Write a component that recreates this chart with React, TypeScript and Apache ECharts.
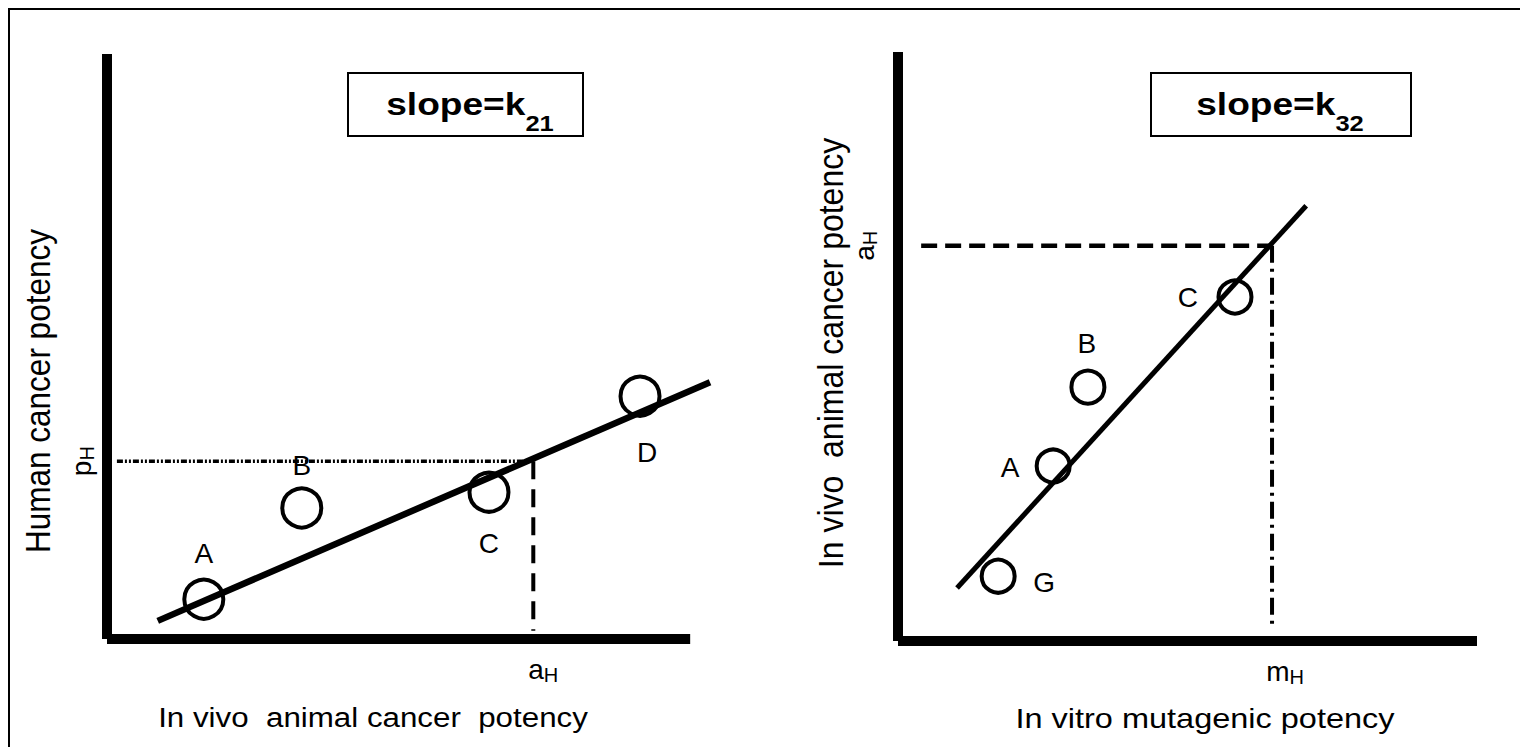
import React, { useEffect, useRef } from "react";
import * as echarts from "echarts";

// ---- Left panel: human vs in vivo animal potency ----
const leftNames = ["A", "B", "C", "D"];
const leftX = [16.6, 33.4, 65.5, 91.4];
const leftY = [6.8, 22.4, 25.1, 41.5];
const leftFitX = [8.7, 103.4];
const leftFitY = [3.1, 43.9];
const leftAxisEnd = 100;
const pHLevel = 30.4;
const pHFrom = 1.7;
const pHTo = 72.0;
const aHLeft = 73.1;
const aHLeftBottom = 1.4;

// ---- Right panel: in vivo animal vs in vitro mutagenic potency ----
const rightNames = ["G", "A", "B", "C"];
const rightX = [17.3, 26.8, 32.8, 58.2];
const rightY = [11.0, 29.7, 43.1, 58.4];
const rightFitX = [10.2, 70.5];
const rightFitY = [9.0, 73.9];
const aHRight = 67.1;
const aHFrom = 4.0;
const mH = 64.6;
const mHBottom = 1.9;

const leftTitleX = "In vivo  animal cancer  potency";
const leftTitleY = "Human cancer potency";
const rightTitleX = "In vitro mutagenic potency";
const rightTitleY = "In vivo  animal cancer potency";

const FONT = "'Liberation Sans', Arial, Helvetica, sans-serif";
const FS = 28;
const STRETCH = 1.16;
const W = 1512;
const H = 739;
const BORDER = 2;

export default function App() {
  const ref = useRef<HTMLDivElement>(null);
  useEffect(() => {
    if (!ref.current) return;
    const chart = echarts.init(ref.current, null, { renderer: "svg" });

    const leftOffsets = [
      [0, -46],
      [0, -42],
      [0, 51],
      [7, 56],
    ];
    const rightOffsets = [
      [46, 6],
      [-43, 1],
      [-1, -44],
      [-47, 0],
    ];

    const subRich = (big: number, small: number, padLeft: number) => ({
      a: { fontSize: big, fontFamily: FONT, color: "#000", padding: [0, 0, 0, padLeft] },
      s: { fontSize: small, fontFamily: FONT, color: "#000", padding: [12, 0, 0, 0] },
    });

    const axisCommon = {
      type: "value" as const,
      min: 0,
      axisTick: { show: false },
      splitLine: { show: false },
      axisLine: { show: true, onZero: false, lineStyle: { color: "#000", width: 10, cap: "butt" } },
    };

    const guide = (type: any, width: number) => ({
      type: "line",
      symbol: "none",
      silent: true,
      clip: false,
      lineStyle: { color: "#000", width, type },
    });

    const scatterCommon = {
      type: "scatter",
      symbol: "circle",
      itemStyle: { color: "rgba(0,0,0,0)", borderColor: "#000", borderWidth: 4, opacity: 1 },
      label: {
        show: true,
        position: "inside",
        formatter: "{b}",
        color: "#000",
        fontSize: FS,
        fontFamily: FONT,
      },
    };

    const boxText = (sub: string) => ({
      text: `{b|slope=k}{s|${sub}}`,
      align: "center",
      verticalAlign: "middle",
      rich: {
        b: { fontSize: 32, fontWeight: "bold", fontFamily: FONT, fill: "#000" },
        s: { fontSize: 22, fontWeight: "bold", fontFamily: FONT, fill: "#000", padding: [38, 0, 0, 0] },
      },
    });

    const option: any = {
      animation: false,
      backgroundColor: "transparent",
      grid: [
        { left: 99, top: 46, width: 603, height: 585 },
        { left: 890, top: 44, width: 579, height: 589 },
      ],
      xAxis: [
        {
          ...axisCommon,
          gridIndex: 0,
          max: 103.4,
          axisLine: { show: false },
          axisLabel: {
            customValues: [aHLeft],
            margin: 14,
            formatter: () => "{a|a}{s|H}",
            rich: subRich(FS, 20, 20),
          },
        },
        {
          ...axisCommon,
          gridIndex: 1,
          max: 100,
          axisLabel: {
            customValues: [mH],
            margin: 14,
            formatter: () => "{a|m}{s|H}",
            rich: subRich(FS, 20, 26),
          },
        },
      ],
      yAxis: [
        {
          ...axisCommon,
          gridIndex: 0,
          max: 100,
          axisLabel: {
            customValues: [pHLevel],
            margin: 10,
            rotate: 90,
            formatter: () => "{a|p}{s|H}",
            rich: subRich(FS, 20, 0),
          },
        },
        {
          ...axisCommon,
          gridIndex: 1,
          max: 100,
          axisLabel: {
            customValues: [aHRight],
            margin: 18,
            rotate: 90,
            formatter: () => "{a|a}{s|H}",
            rich: subRich(FS, 20, 0),
          },
        },
      ],
      series: [
        {
          // horizontal axis bar of the left panel (shorter than the fit line)
          type: "line",
          xAxisIndex: 0,
          yAxisIndex: 0,
          symbol: "none",
          silent: true,
          clip: false,
          lineStyle: { color: "#000", width: 10, cap: "butt" },
          data: [
            [0, 0],
            [leftAxisEnd, 0],
          ],
        },
        {
          ...guide([6, 2, 2, 2, 2, 2], 3.5),
          xAxisIndex: 0,
          yAxisIndex: 0,
          data: [
            [pHFrom, pHLevel],
            [pHTo, pHLevel],
          ],
        },
        {
          ...guide([18, 10], 4),
          xAxisIndex: 0,
          yAxisIndex: 0,
          data: [
            [aHLeft, pHLevel],
            [aHLeft, aHLeftBottom],
          ],
        },
        {
          type: "line",
          xAxisIndex: 0,
          yAxisIndex: 0,
          symbol: "none",
          clip: false,
          lineStyle: { color: "#000", width: 6.5 },
          data: leftFitX.map((x, i) => [x, leftFitY[i]]),
        },
        {
          ...scatterCommon,
          xAxisIndex: 0,
          yAxisIndex: 0,
          symbolSize: 39,
          data: leftNames.map((n, i) => ({
            name: n,
            value: [leftX[i], leftY[i]],
            label: { offset: leftOffsets[i] },
          })),
        },
        {
          ...guide([16, 8], 4.5),
          xAxisIndex: 1,
          yAxisIndex: 1,
          data: [
            [aHFrom, aHRight],
            [mH, aHRight],
          ],
        },
        {
          ...guide([17, 6, 3, 6], 4),
          xAxisIndex: 1,
          yAxisIndex: 1,
          data: [
            [mH, aHRight],
            [mH, mHBottom],
          ],
        },
        {
          type: "line",
          xAxisIndex: 1,
          yAxisIndex: 1,
          symbol: "none",
          clip: false,
          lineStyle: { color: "#000", width: 5 },
          data: rightFitX.map((x, i) => [x, rightFitY[i]]),
        },
        {
          ...scatterCommon,
          xAxisIndex: 1,
          yAxisIndex: 1,
          symbolSize: 33,
          data: rightNames.map((n, i) => ({
            name: n,
            value: [rightX[i], rightY[i]],
            label: { offset: rightOffsets[i] },
          })),
        },
      ],
      graphic: [
        {
          type: "rect",
          shape: { x: 340, y: 65, width: 235, height: 63 },
          style: { fill: "#fff", stroke: "#000", lineWidth: 2 },
        },
        {
          type: "text",
          x: 462,
          y: 96,
          scaleX: STRETCH,
          style: boxText("21"),
        },
        {
          type: "rect",
          shape: { x: 1143, y: 65, width: 260, height: 63 },
          style: { fill: "#fff", stroke: "#000", lineWidth: 2 },
        },
        {
          type: "text",
          x: 1272,
          y: 96,
          scaleX: STRETCH,
          style: boxText("32"),
        },
        {
          type: "text",
          x: 365,
          y: 710,
          scaleX: STRETCH,
          style: { text: leftTitleX, align: "center", verticalAlign: "middle", fontSize: 27, fontFamily: FONT, fill: "#000" },
        },
        {
          type: "text",
          x: 1197,
          y: 710,
          scaleX: STRETCH,
          style: { text: rightTitleX, align: "center", verticalAlign: "middle", fontSize: 28, fontFamily: FONT, fill: "#000" },
        },
        {
          type: "text",
          x: 30,
          y: 383,
          rotation: Math.PI / 2,
          scaleY: 1.12,
          style: { text: leftTitleY, align: "center", verticalAlign: "middle", fontSize: 31.5, fontFamily: FONT, fill: "#000" },
        },
        {
          type: "text",
          x: 822,
          y: 345,
          rotation: Math.PI / 2,
          scaleY: 1.12,
          style: { text: rightTitleY, align: "center", verticalAlign: "middle", fontSize: 32, fontFamily: FONT, fill: "#000" },
        },
      ],
    };

    chart.setOption(option);
    return () => chart.dispose();
  }, []);

  return (
    <div
      style={{
        position: "relative",
        width: W - BORDER,
        height: H - BORDER,
        borderTop: `${BORDER}px solid #000`,
        borderLeft: `${BORDER}px solid #000`,
      }}
    >
      <div
        ref={ref}
        style={{ position: "absolute", left: -BORDER, top: -BORDER, width: W, height: H }}
      />
    </div>
  );
}
